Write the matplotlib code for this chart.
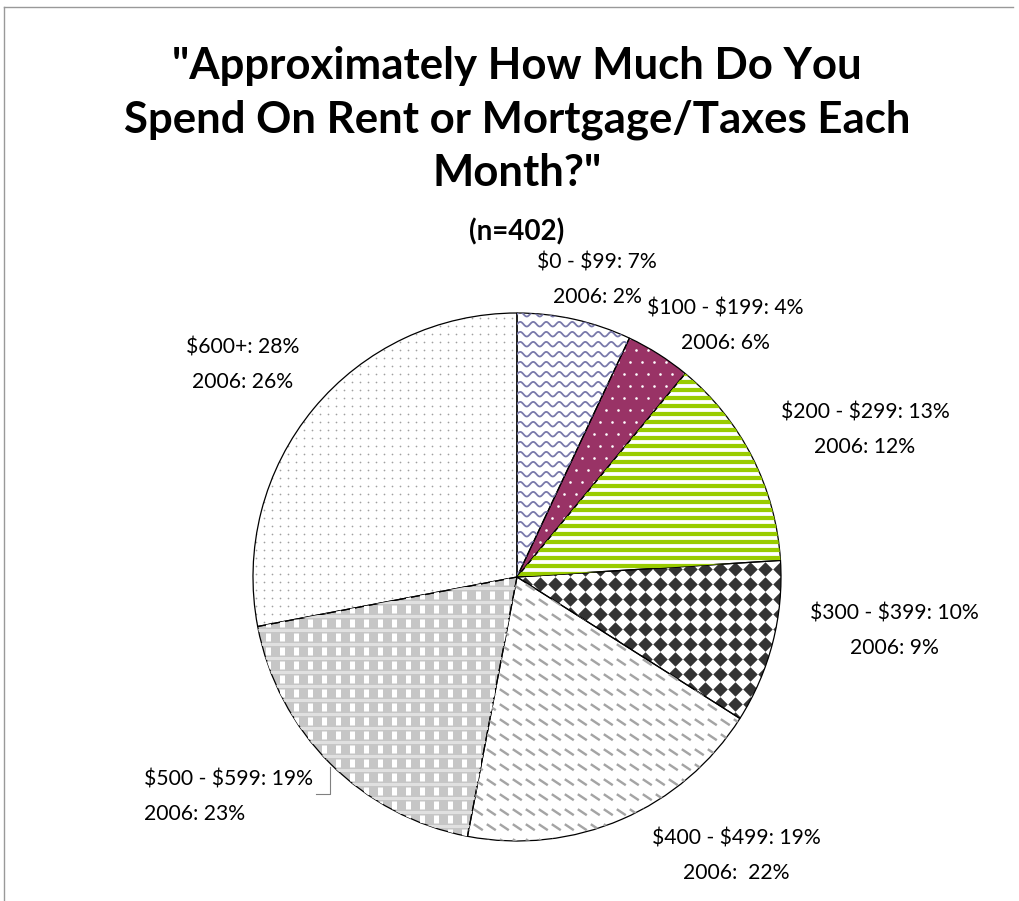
import numpy as np
import matplotlib.pyplot as plt
from matplotlib.lines import Line2D
from matplotlib.collections import LineCollection

# survey answers, this year vs 2006 (percent of respondents)
categories = ['$0 - $99', '$100 - $199', '$200 - $299', '$300 - $399',
              '$400 - $499', '$500 - $599', '$600+']
pct_now = [7, 4, 13, 10, 19, 19, 28]
pct_2006 = [2, 6, 12, 9, 22, 23, 26]
sample_size = 402

W, H = 1019, 901
CX, CY, R = 517, 577, 264   # pie centre / radius in pixels
u = 1.0 / R                 # one pixel in data units

plt.rcParams['font.family'] = ['Lato', 'DejaVu Sans']
plt.rcParams['text.parse_math'] = False

fig = plt.figure(figsize=(W / 100, H / 100), dpi=100)
ax = fig.add_axes([0, 0, 1, 1])

base = ['white', '#993366', 'white', 'white', 'white', '#c6c6c6', 'white']
wedges, _ = ax.pie(pct_now, startangle=90, counterclock=False, colors=base,
                   wedgeprops=dict(linewidth=0))


def px(x, y):
    return (x - CX) * u, (CY - y) * u


def grid(sx, sy, stagger=False):
    xs = np.arange(-1.05, 1.05, sx * u)
    ys = np.arange(-1.05, 1.05, sy * u)
    X, Y = np.meshgrid(xs, ys)
    if stagger:
        X[1::2] += sx * u / 2
    return X.ravel(), Y.ravel()


def add_clipped(artist, wedge):
    if isinstance(artist, LineCollection):
        ax.add_collection(artist, autolim=False)
    artist.set_clip_path(wedge)


def pt(pixels):
    return pixels * 72 / 100


# fill patterns, each clipped to its wedge
xs = np.linspace(-1.05, 1.05, 1500)
waves = [np.column_stack([xs, y0 + 2.3 * u * np.sin(2 * np.pi * xs / (13 * u))])
         for y0 in np.arange(-1.05, 1.05, 10 * u)]
add_clipped(LineCollection(waves, colors='#7878aa', linewidths=pt(1.8)), wedges[0])

x, y = grid(12, 12, stagger=True)
add_clipped(ax.scatter(x, y, s=pt(2.6) ** 2, color='white', linewidths=0), wedges[1])

stripes = [[(-1.05, y0), (1.05, y0)] for y0 in np.arange(-1.05, 1.05, 8 * u)]
add_clipped(LineCollection(stripes, colors='#99cc00', linewidths=pt(4.2)), wedges[2])

x, y = grid(15, 15)
add_clipped(ax.scatter(x, y, s=(pt(14.5) / 1.414) ** 2, marker='D',
                       color='#333333', linewidths=0), wedges[3])

x, y = grid(13, 15)
dashes = [[(a, b), (a + 9 * u, b - 6 * u)] for a, b in zip(x, y)]
add_clipped(LineCollection(dashes, colors='#a4a4a4', linewidths=pt(2.4)), wedges[4])

bands = [[(-1.05, y0), (1.05, y0)] for y0 in np.arange(-1.05, 1.05, 14 * u)]
add_clipped(LineCollection(bands, colors='#e0e0e0', linewidths=pt(3)), wedges[5])
x, y = grid(14, 14)
y = y + 7 * u
blocks = [[(a, b - 4 * u), (a, b + 4 * u)] for a, b in zip(x, y)]
add_clipped(LineCollection(blocks, colors='white', linewidths=pt(5), capstyle='butt'),
            wedges[5])

x, y = grid(8, 8)
add_clipped(ax.scatter(x, y, s=pt(1.7) ** 2, color='#a0a0a0', linewidths=0), wedges[6])

# outlines on top of the patterns
ax.pie(pct_now, startangle=90, counterclock=False,
       wedgeprops=dict(fill=False, edgecolor='black', linewidth=0.9))

ax.set_xlim(-CX * u, (W - CX) * u)
ax.set_ylim(-(H - CY) * u, CY * u)
ax.axis('off')

# data labels ($500 block sits left of its leader line)
label_xy = [(597, 280), (725, 326), (865, 430), (894, 631),
            (736, 856), (313, 797), (243, 365)]
for i, (cat, a, b) in enumerate(zip(categories, pct_now, pct_2006)):
    gap = '  ' if i == 4 else ' '
    txt = f'{cat}: {a}%\n2006:{gap}{b}%'
    lx, ly = px(*label_xy[i])
    if i == 5:
        ax.text(lx, ly, txt, ha='right', va='center', fontsize=15.2,
                linespacing=1.9, multialignment='left')
    else:
        ax.text(lx, ly, txt, ha='center', va='center', fontsize=15.2,
                linespacing=1.9, multialignment='center')

leader = np.array([px(330, 767), px(330, 794), px(316, 794)])
ax.plot(leader[:, 0], leader[:, 1], color='#808080', lw=0.8)

# title
fig.text(CX / W, 1 - 46 / H,
         '"Approximately How Much Do You\nSpend On Rent or Mortgage/Taxes Each\nMonth?"',
         ha='center', va='top', fontsize=31.5, fontweight='bold', linespacing=1.4)
fig.text(CX / W, 1 - 232 / H, f'(n={sample_size})', ha='center', va='center',
         fontsize=20, fontweight='bold')

# chart area border (left and top edges)
fig.add_artist(Line2D([3.5 / W, 3.5 / W], [0, 1 - 7 / H], color='#999999', lw=1))
fig.add_artist(Line2D([3.5 / W, 1013 / W], [1 - 7 / H, 1 - 7 / H], color='#999999', lw=1))

fig.savefig('out.png', dpi=100)
